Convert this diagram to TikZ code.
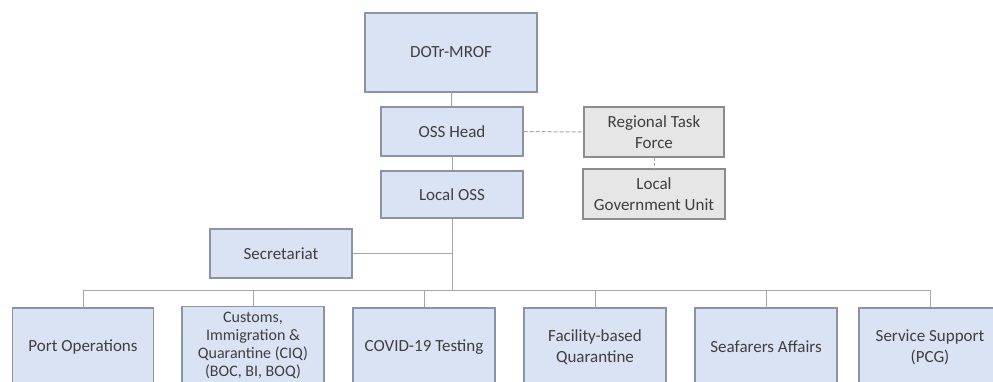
\documentclass[tikz,border=0pt]{standalone}
\usepackage{fontspec}
\setmainfont{Carlito}
\usetikzlibrary{positioning,calc}
\definecolor{cBoxFill}{HTML}{DAE3F3}
\definecolor{cBoxLine}{HTML}{8A94A3}
\definecolor{cGreyFill}{HTML}{E7E6E6}
\definecolor{cGreyLine}{HTML}{8C8C8C}
\definecolor{cLink}{HTML}{A6A6A6}
\definecolor{cText}{HTML}{3F3F3F}

\begin{document}
\begin{tikzpicture}[x=1pt,y=-1pt,
    orgbox/.style={draw=cBoxLine,fill=cBoxFill,line width=1.1pt,align=center,
                   text=cText,inner sep=2pt,font=\fontsize{17}{20.7}\selectfont},
    greybox/.style={orgbox,draw=cGreyLine,fill=cGreyFill},
    link/.style={draw=cLink,line width=1pt}]
  \useasboundingbox (0,0) rectangle (993,381);
  \clip (0,0) rectangle (993,381);
  % top of the chart
  \node[orgbox,minimum width=172pt,minimum height=79pt] (dotr) at (451,52.5) {DOTr-MROF};
  \node[orgbox,minimum width=142pt,minimum height=49pt] (osshead) at (452,131.5) {OSS Head};
  \node[orgbox,minimum width=142pt,minimum height=47pt] (localoss) at (452,194.5) {Local OSS};
  \node[greybox,minimum width=140pt,minimum height=50pt] (rtf) at (654,132) {Regional Task\\Force};
  \node[greybox,minimum width=142pt,minimum height=50pt] (lgu) at (654,194) {Local\\Government Unit};
  \node[orgbox,minimum width=142pt,minimum height=49pt] (secretariat) at (281,253.5) {Secretariat};
  % units
  \node[orgbox,minimum width=141pt,minimum height=78pt] (portops) at (83,347) {Port Operations};
  \node[orgbox,minimum width=142pt,minimum height=78pt,
        font=\fontsize{16}{18.2}\selectfont] (ciq) at (253,345.5)
        {Customs,\\Immigration \&\\Quarantine (CIQ)\\(BOC, BI, BOQ)};
  \node[orgbox,minimum width=142pt,minimum height=78pt] (covid) at (424,347) {COVID-19 Testing};
  \node[orgbox,minimum width=142pt,minimum height=78pt] (fbq) at (595,347) {Facility-based\\Quarantine};
  \node[orgbox,minimum width=142pt,minimum height=78pt] (seafarers) at (766,347) {Seafarers Affairs};
  \node[orgbox,minimum width=142pt,minimum height=78pt] (support) at (930,347) {Service Support\\(PCG)};
  % connectors
  \coordinate (bus) at (452,290);
  \draw[link] (dotr) -- (osshead);
  \draw[link] (osshead) -- (localoss);
  \draw[link] (localoss) -- (bus);
  \draw[link,dashed,dash pattern=on 4pt off 2pt] (osshead) -- (rtf);
  \draw[link,dashed,dash pattern=on 3pt off 2pt] (rtf) -- (lgu);
  \draw[link] (secretariat.east) -- (secretariat.east -| bus);
  \draw[link] (portops.north) -- (portops.north |- bus) -| (support.north);
  \foreach \unit in {ciq,covid,fbq,seafarers}
    \draw[link] (\unit.north) -- (\unit.north |- bus);
\end{tikzpicture}
\end{document}
